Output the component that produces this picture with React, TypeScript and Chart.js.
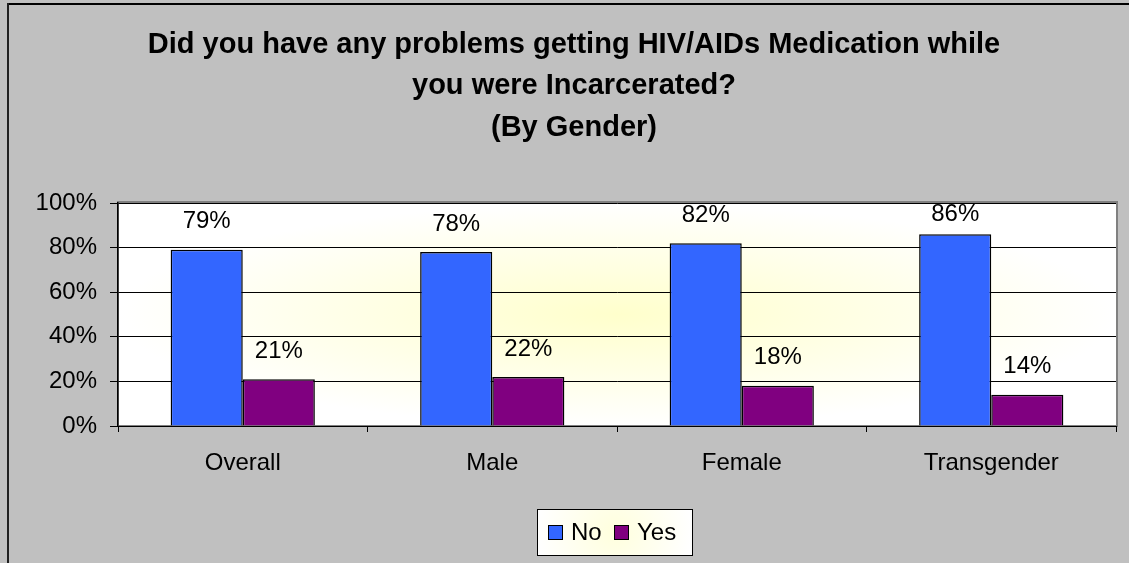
import React, { useEffect, useRef } from 'react';
import { Chart, registerables } from 'chart.js';
Chart.register(...registerables);

const categories = ['Overall', 'Male', 'Female', 'Transgender'];
const seriesNames = ['No', 'Yes'];
const noValues = [79, 78, 82, 86];
const yesValues = [21, 22, 18, 14];
const titleLines = [
  'Did you have any problems getting HIV/AIDs Medication while',
  'you were Incarcerated?',
  '(By Gender)',
];
const seriesColors = ['#3366FF', '#800080'];

const W = 1129;
const H = 563;
const FONT = 'Arial, "Liberation Sans", sans-serif';

const bgPlugin = {
  id: 'bgPlugin',
  beforeDraw(chart: any) {
    const { ctx, chartArea: a } = chart;
    ctx.save();
    ctx.fillStyle = '#C0C0C0';
    ctx.fillRect(0, 0, W, H);
    // outer border (top and left visible)
    ctx.fillStyle = '#000000';
    ctx.fillRect(7, 3, W - 7, 2);
    ctx.fillStyle = '#202020';
    ctx.fillRect(7, 3, 2, H - 3);
    // plot area gradient, clipped to the plot area
    const cx = (a.left + a.right) / 2;
    const cy = (a.top + a.bottom) / 2;
    const rx = (a.right - a.left) / 2;
    const ry = (a.bottom - a.top) / 2;
    ctx.save();
    ctx.beginPath();
    ctx.rect(a.left, a.top, a.right - a.left, a.bottom - a.top);
    ctx.clip();
    ctx.fillStyle = '#FFFFFF';
    ctx.fillRect(a.left, a.top, a.right - a.left, a.bottom - a.top);
    ctx.translate(cx, cy);
    ctx.scale(rx / ry, 1);
    const g = ctx.createRadialGradient(0, 0, 0, 0, 0, ry);
    g.addColorStop(0, '#FFFFCC');
    g.addColorStop(1, '#FFFFFF');
    ctx.fillStyle = g;
    ctx.fillRect(-ry, -ry, ry * 2, ry * 2);
    ctx.restore();
    // plot area gray frame (shadow-like top & right)
    ctx.strokeStyle = '#808080';
    ctx.lineWidth = 2;
    ctx.strokeRect(a.left, a.top - 1, a.right - a.left + 1, a.bottom - a.top + 1);
    ctx.restore();
  },
};

const labelsPlugin = {
  id: 'labelsPlugin',
  afterDatasetsDraw(chart: any) {
    const { ctx, chartArea: a } = chart;
    ctx.save();
    ctx.fillStyle = '#000000';
    ctx.font = `24px ${FONT}`;
    ctx.textAlign = 'center';
    ctx.textBaseline = 'middle';
    chart.data.datasets.forEach((ds: any, di: number) => {
      const meta = chart.getDatasetMeta(di);
      meta.data.forEach((bar: any, i: number) => {
        const y = Math.max(bar.y - 28, a.top + 11);
        ctx.fillText(`${ds.data[i]}%`, bar.x, y);
      });
    });
    ctx.restore();
  },
};

const titleLegendPlugin = {
  id: 'titleLegendPlugin',
  afterDraw(chart: any) {
    const { ctx } = chart;
    ctx.save();
    ctx.fillStyle = '#000000';
    ctx.font = `bold 29px ${FONT}`;
    ctx.textAlign = 'center';
    ctx.textBaseline = 'middle';
    const ys = [45, 86, 128];
    titleLines.forEach((t, i) => ctx.fillText(t, 574, ys[i]));

    // legend
    const bx = 537, by = 509, bw = 155, bh = 46;
    const lg = ctx.createRadialGradient(bx + bw / 2, by + bh / 2, 0, bx + bw / 2, by + bh / 2, bw / 2);
    lg.addColorStop(0, '#FFFFDD');
    lg.addColorStop(1, '#FFFFFF');
    ctx.fillStyle = lg;
    ctx.fillRect(bx, by, bw, bh);
    ctx.strokeStyle = '#000000';
    ctx.lineWidth = 1;
    ctx.strokeRect(bx + 0.5, by + 0.5, bw, bh);
    ctx.font = `24px ${FONT}`;
    ctx.textAlign = 'left';
    const items = [
      { x: 548, tx: 571 },
      { x: 614, tx: 637 },
    ];
    seriesNames.forEach((n, i) => {
      ctx.fillStyle = seriesColors[i];
      ctx.fillRect(items[i].x, 525, 14, 14);
      ctx.strokeStyle = '#000000';
      ctx.lineWidth = 1;
      ctx.strokeRect(items[i].x + 0.5, 525.5, 14, 14);
      ctx.fillStyle = '#000000';
      ctx.fillText(n, items[i].tx, 533);
    });
    ctx.restore();
  },
};

export default function App() {
  const ref = useRef<HTMLCanvasElement | null>(null);
  useEffect(() => {
    if (!ref.current) return;
    const chart = new Chart(ref.current, {
      type: 'bar',
      data: {
        labels: categories,
        datasets: [
          {
            label: seriesNames[0],
            data: noValues,
            backgroundColor: seriesColors[0],
            borderColor: '#000000',
            borderWidth: 1.5,
            categoryPercentage: 0.578,
            barPercentage: 1,
          },
          {
            label: seriesNames[1],
            data: yesValues,
            backgroundColor: seriesColors[1],
            borderColor: '#000000',
            borderWidth: 1.5,
            categoryPercentage: 0.578,
            barPercentage: 1,
          },
        ],
      },
      options: {
        responsive: false,
        animation: false,
        devicePixelRatio: 1,
        layout: { padding: { top: 203, right: 13, left: 0, bottom: 0 } },
        plugins: {
          legend: { display: false },
          title: { display: false },
          tooltip: { enabled: false },
        },
        scales: {
          x: {
            grid: {
              offset: true,
              drawOnChartArea: false,
              drawTicks: true,
              tickLength: 6,
              color: '#000000',
            },
            border: { color: '#000000', width: 1 },
            ticks: {
              color: '#000000',
              font: { family: FONT, size: 24 },
              padding: 17,
            },
            afterFit(scale: any) {
              scale.height = 137;
            },
          },
          y: {
            min: 0,
            max: 100,
            grid: { color: '#000000', lineWidth: 1, tickLength: 8 },
            border: { color: '#000000', width: 1.5 },
            ticks: {
              stepSize: 20,
              color: '#000000',
              font: { family: FONT, size: 24 },
              padding: 13,
              callback: (v: any) => `${v}%`,
            },
            afterFit(scale: any) {
              scale.width = 118;
            },
          },
        },
      },
      plugins: [bgPlugin, labelsPlugin, titleLegendPlugin],
    } as any);
    return () => chart.destroy();
  }, []);
  return (
    <div style={{ position: 'fixed', left: 0, top: 0, width: W, height: H }}>
      <canvas ref={ref} width={W} height={H} style={{ display: 'block', width: W, height: H }} />
    </div>
  );
}
